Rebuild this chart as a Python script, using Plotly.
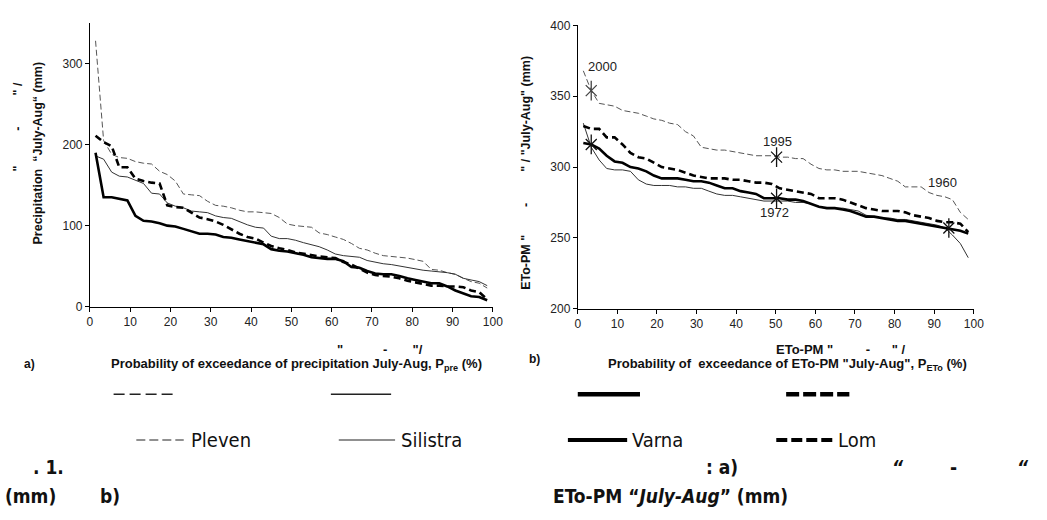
import plotly.graph_objects as go

W, H = 1047, 520

# probability of exceedance (%) of each ranked season
p_exc = [1.4, 3.4, 5.4, 7.3, 9.3, 11.3, 13.3, 15.3, 17.3, 19.2,
         21.2, 23.2, 25.2, 27.2, 29.2, 31.2, 33.1, 35.1, 37.1, 39.1,
         41.1, 43.1, 45.0, 47.0, 49.0, 51.0, 53.0, 55.0, 56.9, 58.9,
         60.9, 62.9, 64.9, 66.9, 68.8, 70.8, 72.8, 74.8, 76.8, 78.8,
         80.8, 82.7, 84.7, 86.7, 88.7, 90.7, 92.7, 94.6, 96.6, 98.6]

# precipitation July-Aug (mm)
pre_pleven = [328, 205, 188, 184, 183, 179, 177, 176, 167, 163,
              155, 139, 138, 137, 130, 125, 124, 122, 119, 117,
              117, 116, 115, 110, 102, 100, 99, 98, 91, 89,
              86, 83, 78, 72, 70, 66, 63, 62, 61, 60,
              58, 56, 46, 45, 42, 40, 35, 31, 29, 23]
pre_silistra = [186, 182, 166, 161, 160, 156, 152, 140, 139, 128,
                124, 122, 118, 117, 116, 112, 110, 109, 105, 101,
                98, 97, 87, 84, 84, 82, 79, 76, 74, 70,
                65, 63, 62, 61, 57, 55, 53, 52, 50, 48,
                46, 45, 44, 43, 42, 40, 35, 33, 31, 26]
pre_varna = [190, 135, 135, 133, 131, 112, 106, 105, 103, 100,
             99, 96, 93, 90, 90, 89, 86, 85, 83, 81,
             79, 77, 71, 69, 68, 66, 64, 61, 60, 59,
             59, 56, 49, 48, 44, 41, 40, 40, 38, 35,
             33, 31, 29, 29, 25, 20, 16, 13, 12, 8]
pre_lom = [211, 203, 198, 172, 172, 158, 155, 153, 152, 125,
           123, 122, 116, 110, 108, 105, 101, 95, 90, 86,
           84, 79, 75, 72, 70, 67, 65, 63, 62, 61,
           60, 55, 52, 47, 42, 39, 38, 37, 35, 32,
           30, 28, 26, 26, 25, 25, 24, 20, 18, 9]

# reference evapotranspiration ETo-PM July-Aug (mm)
eto_pleven = [368, 354, 345, 344, 343, 340, 339, 338, 336, 334,
              333, 331, 330, 325, 322, 314, 313, 312, 312, 311,
              310, 309, 308, 308, 308, 307, 307, 306, 306, 302,
              299, 298, 298, 297, 297, 297, 296, 295, 294, 292,
              290, 286, 286, 286, 282, 280, 279, 277, 268, 263]
eto_silistra = [331, 314, 305, 299, 298, 298, 297, 291, 288, 287,
                287, 287, 286, 286, 285, 285, 283, 281, 280, 280,
                279, 278, 277, 276, 276, 276, 276, 275, 275, 274,
                272, 271, 271, 271, 270, 269, 266, 265, 264, 264,
                263, 263, 262, 261, 260, 259, 257, 252, 246, 236]
eto_varna = [317, 316, 313, 308, 304, 303, 300, 299, 297, 294,
             292, 292, 292, 291, 290, 290, 289, 287, 285, 285,
             283, 282, 281, 278, 278, 278, 277, 277, 276, 274,
             272, 271, 271, 270, 269, 267, 265, 265, 264, 263,
             262, 262, 261, 260, 259, 258, 257, 256, 255, 253]
eto_lom = [329, 327, 327, 321, 321, 316, 310, 307, 306, 303,
           300, 299, 298, 296, 294, 293, 292, 292, 292, 291,
           291, 290, 289, 289, 288, 285, 284, 283, 282, 281,
           278, 278, 278, 277, 275, 273, 271, 270, 269, 269,
           269, 268, 266, 265, 264, 262, 261, 261, 260, 254]

# marked years on the ETo-PM curves
year_labels = ["2000", "1995", "1972", "1960"]
year_p = [3.4, 50.2, 50.2, 93.7]
year_eto = [354, 307, 278, 257]
year_label_p = [6.2, 50.4, 49.6, 92.0]
year_label_eto = [371, 318, 268, 289]
extra_star_p = [3.4]
extra_star_eto = [316]

x_ticks = [0, 10, 20, 30, 40, 50, 60, 70, 80, 90, 100]
pre_ticks = [0, 100, 200, 300]
eto_ticks = [200, 250, 300, 350, 400]

stations = ["Pleven", "Silistra", "Varna", "Lom"]
styles = {
    "Pleven": dict(color="#555555", width=1, dash="6px,3px"),
    "Silistra": dict(color="#333333", width=1, dash="solid"),
    "Varna": dict(color="#000000", width=2.6, dash="solid"),
    "Lom": dict(color="#000000", width=2.6, dash="7px,4px"),
}
# dash patterns of the key samples
key_dash = {"Pleven": "11px,5px", "Silistra": "solid", "Varna": "solid", "Lom": "13px,4px"}

ARIAL = "Liberation Sans, Arial, sans-serif"
COND = "DejaVu Sans Condensed, Liberation Sans, sans-serif"
SP = "&nbsp;"

fig = go.Figure()

for name, ys in zip(stations, [pre_pleven, pre_silistra, pre_varna, pre_lom]):
    fig.add_trace(go.Scatter(x=p_exc, y=ys, mode="lines", line=styles[name],
                             name=name, xaxis="x", yaxis="y", showlegend=False))

for name, ys in zip(stations, [eto_pleven, eto_silistra, eto_varna, eto_lom]):
    fig.add_trace(go.Scatter(x=p_exc, y=ys, mode="lines", line=styles[name],
                             name=name, xaxis="x2", yaxis="y2", showlegend=False))

# six-armed star marks: an x plus a vertical stroke
star_x = year_p + extra_star_p
star_y = year_eto + extra_star_eto
star_col = ["#444444", "#111111", "#111111", "#111111", "#111111"]
for sym, sz in [("x-thin-open", 11), ("line-ns-open", 14)]:
    fig.add_trace(go.Scatter(x=star_x, y=star_y, mode="markers",
                             marker=dict(symbol=sym, size=sz, color=star_col,
                                         line=dict(color=star_col, width=1.3)),
                             xaxis="x2", yaxis="y2", showlegend=False, hoverinfo="skip"))

for lbl, lx, ly in zip(year_labels, year_label_p, year_label_eto):
    fig.add_annotation(x=lx, y=ly, xref="x2", yref="y2", text=lbl, showarrow=False,
                       font=dict(family=ARIAL, size=13, color="#222222"))

axis_common = dict(showline=True, linecolor="#000000", linewidth=1, ticks="outside",
                   ticklen=4, tickcolor="#000000", showgrid=False, zeroline=False,
                   tickfont=dict(family=ARIAL, size=12, color="#222222"))


def px(x):
    return x / W


def py(y):
    return 1 - y / H


fig.update_layout(
    width=W, height=H, margin=dict(l=0, r=0, t=0, b=0),
    paper_bgcolor="white", plot_bgcolor="white",
    xaxis=dict(domain=[px(88), px(496)], range=[0, 100], tickvals=x_ticks,
               anchor="y", **axis_common),
    yaxis=dict(domain=[py(308), py(16.4)], range=[0, 350], tickvals=pre_ticks,
               anchor="x", **axis_common),
    xaxis2=dict(domain=[px(582), px(983)], range=[0, 100], tickvals=x_ticks,
                anchor="y2", **axis_common),
    yaxis2=dict(domain=[py(310), py(19)], range=[200, 400], tickvals=eto_ticks,
                anchor="x2", **axis_common),
)


def text_at(x, y, s, size=13, bold=True, family=ARIAL, angle=0, xanchor="center",
            color="#111111"):
    fig.add_annotation(x=px(x), y=py(y), xref="paper", yref="paper", text=s,
                       showarrow=False, textangle=angle, xanchor=xanchor, yanchor="middle",
                       font=dict(family=family, size=size, color=color,
                                 weight="bold" if bold else "normal"))


# axis titles, panel a
text_at(382, 352, '"' + SP * 11 + '-' + SP * 7 + '"/')
text_at(297, 367, "Probability of exceedance of precipitation July-Aug, P<sub>pre</sub> (%)")
text_at(27, 367, "a)", size=12)
text_at(35, 150, "Precipitation" + SP + " “July-Aug“ (mm)", angle=-90, size=12.5)
text_at(15, 123, '"' + SP * 10 + '-' + SP * 9 + '" /', angle=-90, size=12.5)

# axis titles, panel b
text_at(848, 352, 'ETo-PM "' + SP * 9 + '-' + SP * 6 + '" /')
text_at(794, 367, "Probability of" + SP + ' exceedance of ETo-PM "July-Aug", P<sub>ETo</sub> (%)')
text_at(538, 362, "b)", size=12)
text_at(530, 170, 'ETo-PM "' + SP * 8 + '-' + SP * 9 + '" / "July-Aug" (mm)',
        angle=-90, size=12.5)


def line_sample(x0, x1, y, name, width, dash=None):
    st = styles[name]
    fig.add_shape(type="line", xref="paper", yref="paper", x0=px(x0), x1=px(x1),
                  y0=py(y), y1=py(y),
                  line=dict(color=st["color"] if st["width"] > 2 else "#222222",
                            width=width, dash=dash if dash else key_dash[name]))


# key row without captions
line_sample(112, 172, 398, "Pleven", 1.6)
line_sample(332, 393, 398, "Silistra", 1.6)
line_sample(582, 645, 398, "Varna", 4.5)
line_sample(793, 857, 398, "Lom", 4.5)

# key row with station names
line_sample(135, 183, 445, "Pleven", 1.1, dash="9px,4px")
text_at(188, 445, "Pleven", size=20, bold=False, family=COND, xanchor="left")
line_sample(340, 397, 445, "Silistra", 1.1)
text_at(401, 445, "Silistra", size=20, bold=False, family=COND, xanchor="left")
line_sample(572, 632, 445, "Varna", 4)
text_at(635, 445, "Varna", size=20, bold=False, family=COND, xanchor="left")
line_sample(783, 840, 445, "Lom", 4, dash="11px,4px")
text_at(843, 445, "Lom", size=20, bold=False, family=COND, xanchor="left")

# caption
text_at(28, 473, ". 1.", size=19, family=COND, xanchor="left")
text_at(710, 473, ": a)", size=19, family=COND, xanchor="left")
text_at(906, 473, "<i>“</i>", size=19, family=COND)
text_at(962, 473, "-", size=19, family=COND)
text_at(1033, 473, "<i>“</i>", size=19, family=COND)
text_at(0, 503, "(mm)", size=19, family=COND, xanchor="left")
text_at(96, 503, "b)", size=19, family=COND, xanchor="left")
text_at(555, 503, "ETo-PM “<i>July-Aug</i>” (mm)", size=19, family=COND, xanchor="left")

fig.write_html("out.html")
